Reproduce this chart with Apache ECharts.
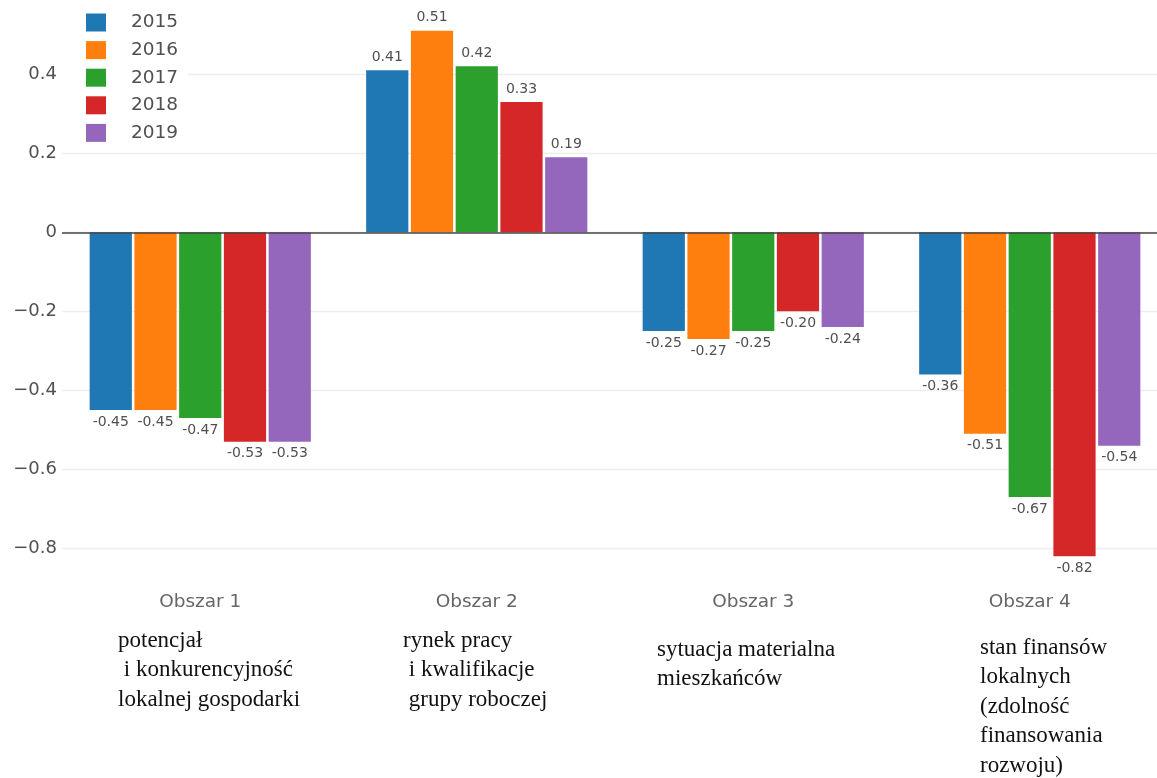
<!DOCTYPE html>
<html>
<head>
<meta charset="utf-8">
<script src="https://cdn.jsdelivr.net/npm/echarts@6/dist/echarts.min.js"></script>
<style>
html,body{margin:0;padding:0;background:#fff;overflow:hidden;width:1157px;height:778px;}
#chart{width:1168px;height:778px;}
</style>
</head>
<body>
<div id="chart"></div>
<script>
const categories = ['Obszar 1', 'Obszar 2', 'Obszar 3', 'Obszar 4'];
const years = ['2015', '2016', '2017', '2018', '2019'];
const v2015 = [-0.45, 0.41, -0.25, -0.36];
const v2016 = [-0.45, 0.51, -0.27, -0.51];
const v2017 = [-0.47, 0.42, -0.25, -0.67];
const v2018 = [-0.53, 0.33, -0.20, -0.82];
const v2019 = [-0.53, 0.19, -0.24, -0.54];
const colors = ['#1f77b4', '#ff7f0e', '#2ca02c', '#d62728', '#9467bd'];
const areaDescriptions = [
  ['potencjał', ' i konkurencyjność', 'lokalnej gospodarki'],
  ['rynek pracy', ' i kwalifikacje', ' grupy roboczej'],
  ['sytuacja materialna', 'mieszkańców'],
  ['stan finansów', 'lokalnych', '(zdolność', 'finansowania', 'rozwoju)']
];

const seriesValues = [v2015, v2016, v2017, v2018, v2019];
const sansFont = '"DejaVu Sans", Verdana, sans-serif';

const chart = echarts.init(document.getElementById('chart'));

const series = seriesValues.map((vals, i) => ({
  name: years[i],
  type: 'bar',
  barGap: '6%',
  barCategoryGap: '20%',
  itemStyle: { color: colors[i] },
  data: vals.map(v => ({
    value: v,
    label: {
      show: true,
      position: v < 0 ? 'bottom' : 'top',
      distance: v < 0 ? 5 : 6,
      formatter: p => p.value.toFixed(2),
      color: '#505050',
      fontSize: 14,
      fontFamily: sansFont
    }
  })),
  markLine: i === 0 ? {
    silent: true,
    symbol: 'none',
    label: { show: false },
    lineStyle: { color: '#444', width: 1.5, type: 'solid' },
    data: [{ yAxis: 0 }]
  } : undefined
}));

const descX = [118, 403, 657, 980];
const descY = [626, 626, 635, 633];
const graphics = areaDescriptions.map((lines, i) => ({
  type: 'text',
  left: descX[i],
  top: descY[i],
  style: {
    text: lines.join('\n'),
    font: '23px "Liberation Serif", "Times New Roman", serif',
    lineHeight: 29.5,
    fill: '#111'
  }
}));

chart.setOption({
  animation: false,
  backgroundColor: '#fff',
  color: colors,
  grid: { left: 62, right: 0, top: 15, bottom: 202 },
  legend: {
    orient: 'vertical',
    left: 62,
    top: 0,
    padding: [13, 10, 8, 24],
    backgroundColor: '#fff',
    icon: 'rect',
    itemWidth: 20,
    itemHeight: 18,
    itemGap: 8.6,
    data: years,
    textStyle: { color: '#505050', fontSize: 18.5, fontFamily: sansFont, padding: [0, 0, 0, 20] }
  },
  xAxis: {
    type: 'category',
    data: categories,
    axisLine: { show: false, onZero: false },
    axisTick: { show: false },
    axisLabel: { color: '#666', fontSize: 18.5, fontFamily: sansFont, margin: 17 }
  },
  yAxis: {
    type: 'value',
    min: -0.87,
    max: 0.55,
    splitNumber: 7,
    minInterval: 0.2,
    maxInterval: 0.2,
    axisLine: { show: false },
    axisTick: { show: false },
    axisLabel: {
      showMinLabel: false,
      showMaxLabel: false,
      color: '#505050',
      fontSize: 18,
      fontFamily: sansFont,
      margin: 5,
      formatter: v => (Math.abs(v) < 1e-9 ? '0' : v.toFixed(1).replace('-', '\u2212'))
    },
    splitLine: {
      show: true,
      showMinLine: false,
      showMaxLine: false,
      lineStyle: { color: '#eeeeee', width: 1.4 }
    }
  },
  series: series,
  graphic: graphics
});
</script>
</body>
</html>
